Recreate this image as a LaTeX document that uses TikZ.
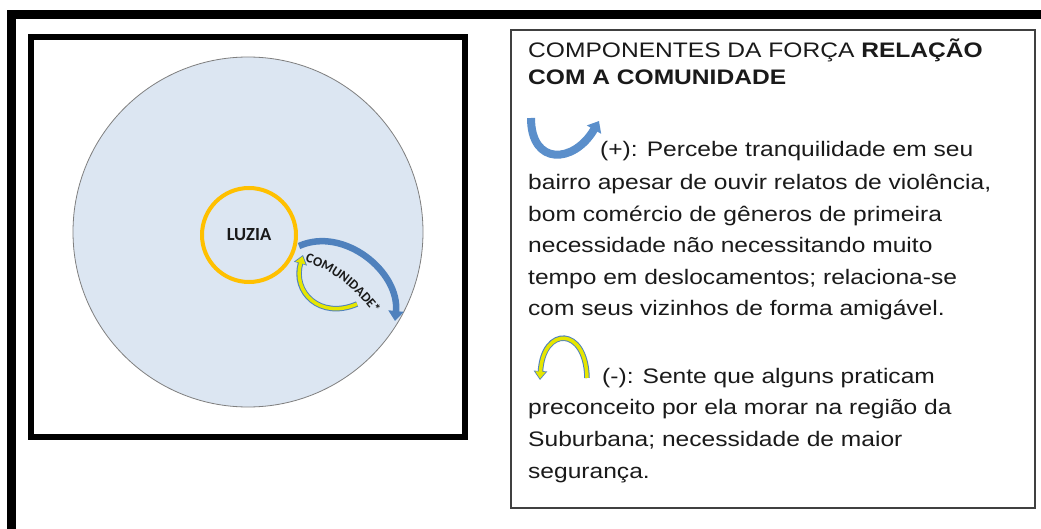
\documentclass[tikz,border=0pt]{standalone}
\usepackage{fontspec}
\setmainfont{Liberation Sans}
\newfontfamily\boxfont[FakeStretch=1.17]{Liberation Sans}
\newfontfamily\calfont{Carlito}
\usetikzlibrary{arrows.meta,decorations.text}

\definecolor{ringfill}{HTML}{DCE6F2}
\definecolor{ringline}{HTML}{7F7F7F}
\definecolor{luziaring}{HTML}{FFC000}
\definecolor{forceblue}{HTML}{4F81BD}
\definecolor{iconblue}{HTML}{5B8FCB}
\definecolor{forceyellow}{HTML}{E6E600}
\definecolor{bodytext}{HTML}{1A1A1A}

\tikzset{
  body/.style={anchor=base west, inner sep=0pt, text=bodytext, align=left,
    font=\boxfont\fontsize{21}{31.6}\selectfont},
  blueband/.style={draw=forceblue, line width=6.5pt,
    -{Triangle[width=15pt,length=10pt]}},
  yellowedge/.style={draw=forceblue, line width=5.5pt,
    -{Triangle[width=13pt,length=9pt]}},
  yellowcore/.style={draw=forceyellow, line width=3.5pt, shorten >=1.4pt,
    -{Triangle[width=10pt,length=7pt]}}
}

\begin{document}
\begin{tikzpicture}[x=1pt, y=-1pt]
  \useasboundingbox[fill=white] (0,0) rectangle (1041,529);

  % frames
  \draw[line width=9pt] (11.5,540) -- (11.5,14.5) -- (1050,14.5);
  \draw[line width=6pt] (31,37) rectangle (464.5,436.5);
  \draw[line width=1.5pt, black!75] (511,30) rectangle (1035,508);

  % map of forces
  \node[circle, draw=ringline, fill=ringfill, line width=0.8pt,
    minimum size=350pt, inner sep=0pt] (field) at (248,232) {};
  \node[circle, draw=luziaring, line width=4pt, minimum size=94pt,
    inner sep=0pt, text=bodytext, font=\calfont\bfseries\fontsize{18.5}{20}\selectfont]
    (luzia) at (249,235) {LUZIA};

  \coordinate (bstart) at (299,246);
  \coordinate (bend) at (395,321);
  \draw[blueband] (bstart) .. controls (344,226) and (400,272) .. (bend);

  \coordinate (ystart) at (357,304);
  \coordinate (yend) at (303,255);
  \draw[yellowedge] (ystart) .. controls (320,320) and (292,292) .. (yend);
  \draw[yellowcore] (ystart) .. controls (320,320) and (292,292) .. (yend);

  \coordinate (tstart) at (305,262);
  \coordinate (tend) at (385,330);
  \path[decorate, decoration={text along path, text align=left,
      text={|\calfont\bfseries\fontsize{13.5}{16}\selectfont\color{bodytext}|COMUNIDADE*}}]
    (tstart) .. controls (334,270) and (362,293) .. (tend);

  % legend
  \node[body, font=\boxfont\fontsize{21}{27}\selectfont] (title) at (528,85)
    {COMPONENTES DA FORÇA \textbf{RELAÇÃO}\\\textbf{COM A COMUNIDADE}};

  \coordinate (pstart) at (531,118);
  \coordinate (pend) at (599,121);
  \draw[draw=iconblue, line width=8pt, -{Triangle[width=16pt,length=10pt]}]
    (pstart) .. controls (531,166) and (574,164) .. (pend);
  \node[body] (plus) at (600,157) {(+): Percebe tranquilidade em seu};
  \node[body] (plusrest) at (528,316)
    {bairro apesar de ouvir relatos de violência,\\
     bom comércio de gêneros de primeira\\
     necessidade não necessitando muito\\
     tempo em deslocamentos; relaciona-se\\
     com seus vizinhos de forma amigável.};

  \coordinate (mstart) at (587,378);
  \coordinate (mend) at (540,380);
  \draw[yellowedge] (mstart) .. controls (586,326) and (543,326) .. (mend);
  \draw[yellowcore] (mstart) .. controls (586,326) and (543,326) .. (mend);
  \node[body] (minus) at (602,383) {(-): Sente que alguns praticam};
  \node[body] (minusrest) at (528,478)
    {preconceito por ela morar na região da\\
     Suburbana; necessidade de maior\\
     segurança.};
\end{tikzpicture}
\end{document}
